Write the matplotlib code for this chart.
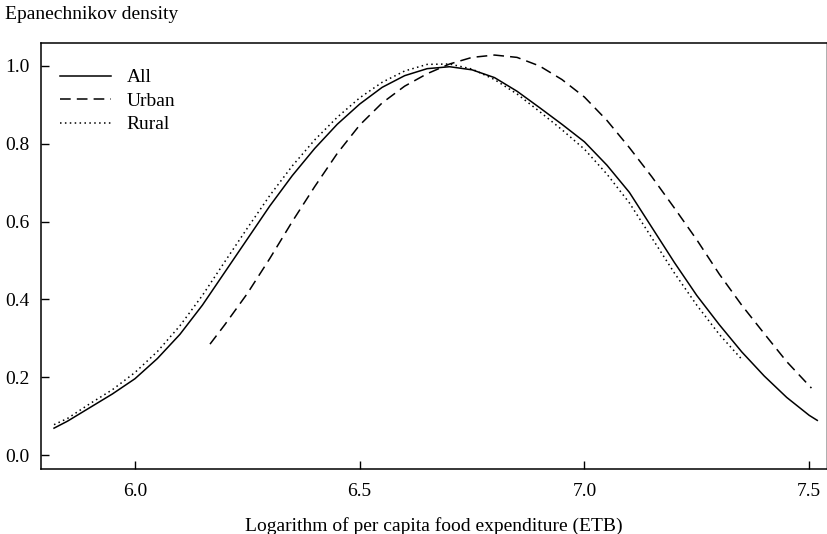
import matplotlib
matplotlib.use("Agg")
import matplotlib.pyplot as plt

plt.rcParams['font.family'] = ['Liberation Serif', 'DejaVu Serif']

# readings
x_all = [5.82, 5.85, 5.90, 5.95, 6.00, 6.05, 6.10, 6.15, 6.20, 6.25, 6.30, 6.35,
         6.40, 6.45, 6.50, 6.55, 6.60, 6.65, 6.70, 6.75, 6.80, 6.85, 6.90, 6.95,
         7.00, 7.05, 7.10, 7.15, 7.20, 7.25, 7.30, 7.35, 7.40, 7.45, 7.50, 7.518]
y_all = [0.069, 0.087, 0.122, 0.157, 0.196, 0.248, 0.310, 0.385, 0.470, 0.555,
         0.640, 0.718, 0.788, 0.850, 0.902, 0.945, 0.975, 0.993, 0.998, 0.990,
         0.970, 0.935, 0.893, 0.850, 0.805, 0.745, 0.675, 0.585, 0.495, 0.410,
         0.335, 0.265, 0.203, 0.148, 0.102, 0.089]

x_urban = [6.167, 6.20, 6.25, 6.30, 6.35, 6.40, 6.45, 6.50, 6.55, 6.60, 6.65,
           6.70, 6.75, 6.80, 6.85, 6.90, 6.95, 7.00, 7.05, 7.10, 7.15, 7.20,
           7.25, 7.30, 7.35, 7.40, 7.45, 7.505]
y_urban = [0.285, 0.335, 0.415, 0.505, 0.600, 0.690, 0.775, 0.848, 0.905, 0.948,
           0.980, 1.005, 1.022, 1.028, 1.022, 1.000, 0.965, 0.920, 0.860, 0.790,
           0.715, 0.635, 0.553, 0.465, 0.385, 0.312, 0.240, 0.172]

x_rural = [5.82, 5.85, 5.90, 5.95, 6.00, 6.05, 6.10, 6.15, 6.20, 6.25, 6.30,
           6.35, 6.40, 6.45, 6.50, 6.55, 6.60, 6.65, 6.70, 6.75, 6.80, 6.85,
           6.90, 6.95, 7.00, 7.05, 7.10, 7.15, 7.20, 7.25, 7.30, 7.35]
y_rural = [0.078, 0.094, 0.132, 0.168, 0.212, 0.266, 0.332, 0.410, 0.497, 0.583,
           0.667, 0.743, 0.810, 0.868, 0.918, 0.958, 0.987, 1.004, 1.005, 0.992,
           0.965, 0.928, 0.883, 0.836, 0.786, 0.722, 0.648, 0.558, 0.468, 0.385,
           0.310, 0.246]

xticks = [6.0, 6.5, 7.0, 7.5]
yticks = [0.0, 0.2, 0.4, 0.6, 0.8, 1.0]

fig = plt.figure(figsize=(8.28, 5.34), dpi=100)
ax = fig.add_axes([0.0495, 0.1217, 0.9495, 0.7978])

ax.plot(x_all, y_all, color='black', lw=1.1, label='All')
ax.plot(x_urban, y_urban, color='black', lw=1.1, dashes=(7, 4), label='Urban')
ax.plot(x_rural, y_rural, color='black', lw=1.1, dashes=(1, 2.2), label='Rural')

ax.set_xlim(5.791, 7.54)
ax.set_ylim(-0.036, 1.059)
ax.set_xticks(xticks)
ax.set_yticks(yticks)
ax.set_xticklabels([f'{v:.1f}' for v in xticks])
ax.set_yticklabels([f'{v:.1f}' for v in yticks])
ax.tick_params(direction='in', length=6, width=1, labelsize=14, pad=8)
ax.tick_params(axis='x', pad=10)
for s in ax.spines.values():
    s.set_linewidth(1.1)
ax.spines['right'].set_color('#999999')

ax.set_xlabel('Logarithm of per capita food expenditure (ETB)', fontsize=14, labelpad=12)
fig.text(0.006, 0.972, 'Epanechnikov density', fontsize=14, va='center', ha='left')

ax.legend(loc='upper left', frameon=False, fontsize=14, handlelength=2.6,
          handletextpad=0.8, labelspacing=0.3, borderaxespad=0.6,
          bbox_to_anchor=(0.0, 0.985))

fig.savefig('out.png', dpi=100)
